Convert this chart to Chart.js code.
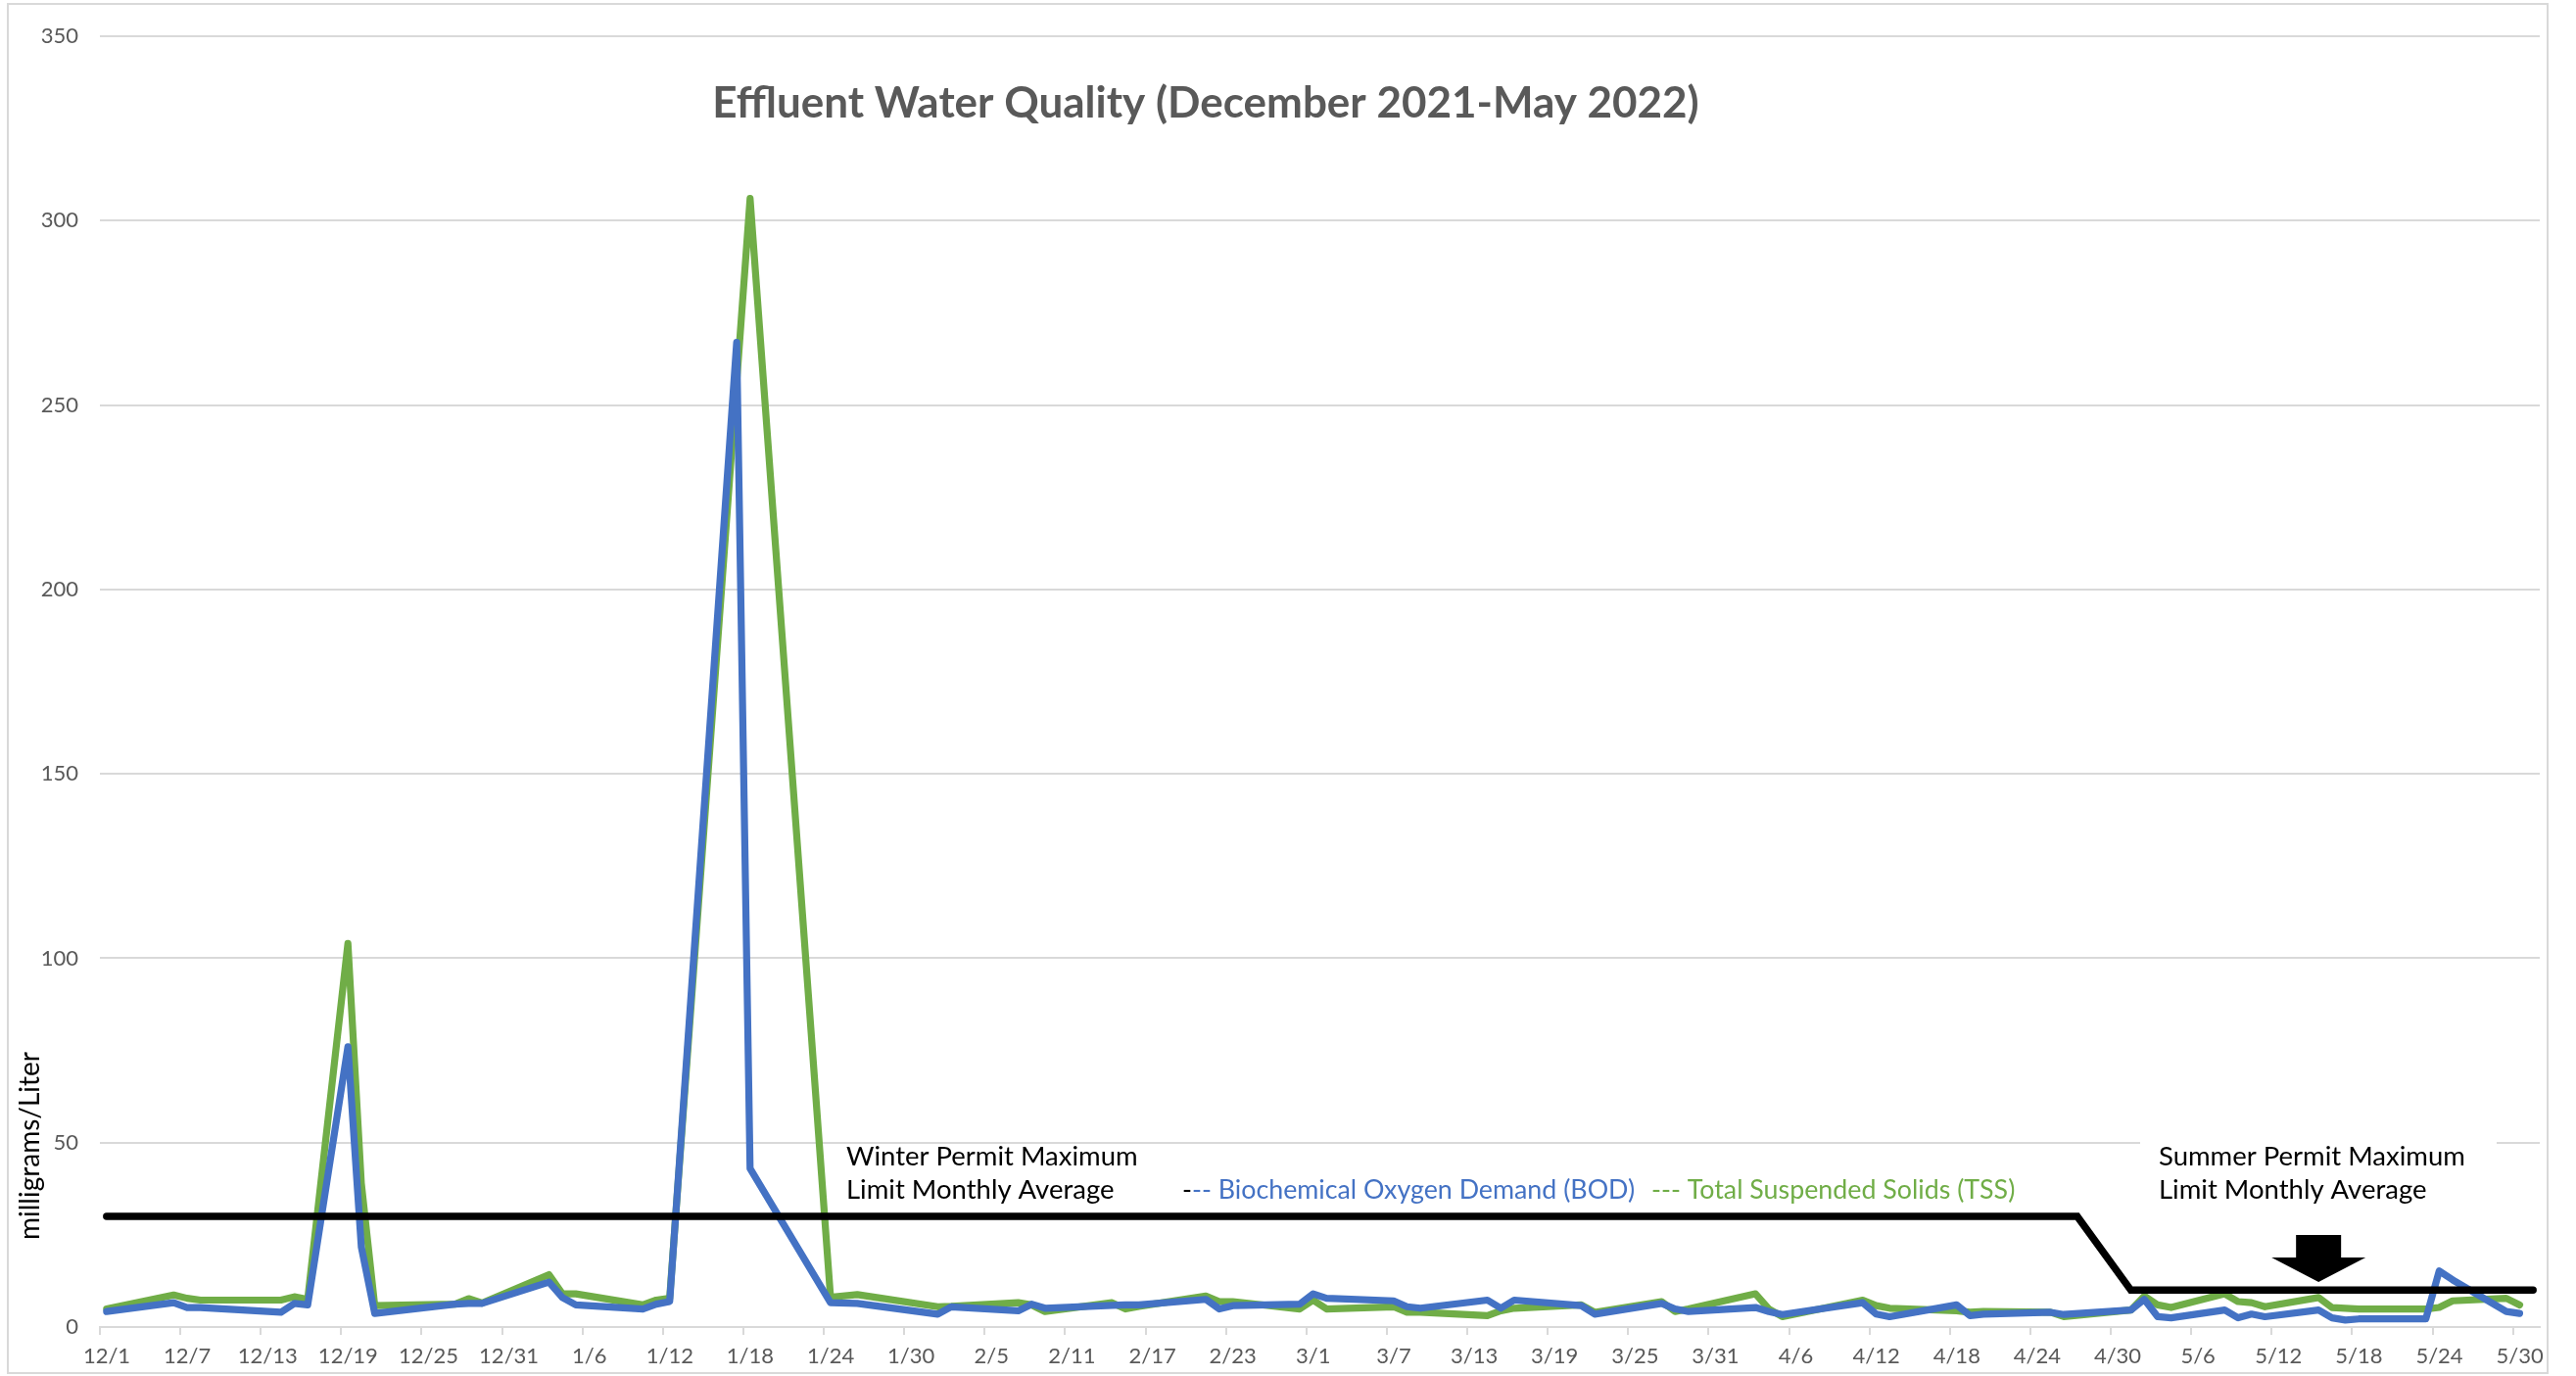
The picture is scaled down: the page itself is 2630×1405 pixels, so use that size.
<!DOCTYPE html>
<html>
<head>
<meta charset="utf-8">
<script src="https://cdn.jsdelivr.net/npm/chart.js@4/dist/chart.umd.min.js"></script>
<style>
  html, body { margin: 0; padding: 0; background: #ffffff; }
  #wrap { width: 2630px; height: 1405px; position: relative; }
</style>
</head>
<body>
<div id="wrap"><canvas id="chart" width="2630" height="1405"></canvas></div>
<script>
// ---- Sample dates (m/d, Dec 2021 - May 2022) and lab results, mg/L ----
const bodDates = ['12/1','12/6','12/7','12/8','12/14','12/15','12/16','12/19','12/20','12/21',
  '12/27','12/28','12/29','1/3','1/4','1/5','1/10','1/11','1/12','1/17','1/18','1/24','1/26',
  '2/1','2/2','2/7','2/8','2/9','2/14','2/15','2/16','2/21','2/22','2/23','2/28','3/1','3/2',
  '3/7','3/8','3/9','3/14','3/15','3/16','3/21','3/22','3/27','3/28','3/29','4/3','4/4','4/5',
  '4/11','4/12','4/13','4/18','4/19','4/20','4/25','4/26','5/1','5/2','5/3','5/4','5/8','5/9',
  '5/10','5/11','5/15','5/16','5/17','5/18','5/23','5/24','5/25','5/29','5/30'];
const bodValues = [4.2,6.6,5.3,5.3,4.0,6.4,6.0,76,21.7,3.7,
  6.2,6.4,6.4,12.2,8.0,6.0,4.9,6.2,6.9,267,43,6.6,6.4,
  3.5,5.5,4.4,6.2,5.1,5.9,6.0,6.0,7.5,4.9,5.8,6.2,9.0,7.8,
  7.1,5.5,5.1,7.3,5.1,7.3,5.8,3.5,6.4,4.9,4.2,5.3,4.2,3.4,
  6.6,3.5,2.8,6.0,3.1,3.5,4.0,3.4,4.6,7.5,2.8,2.5,4.6,2.5,
  3.5,2.8,4.6,2.5,1.9,2.2,2.2,15.2,12.8,4.2,3.7];

const tssDates = ['12/1','12/6','12/7','12/8','12/14','12/15','12/16','12/19','12/20','12/21',
  '12/27','12/28','12/29','1/3','1/4','1/5','1/10','1/11','1/12','1/18','1/24','1/26',
  '2/1','2/2','2/7','2/8','2/9','2/14','2/15','2/16','2/21','2/22','2/23','2/28','3/1','3/2',
  '3/7','3/8','3/9','3/14','3/15','3/16','3/21','3/22','3/27','3/28','3/29','4/3','4/4','4/5',
  '4/11','4/12','4/13','4/18','4/19','4/20','4/25','4/26','5/1','5/2','5/3','5/4','5/8','5/9',
  '5/10','5/11','5/15','5/16','5/17','5/18','5/23','5/24','5/25','5/29','5/30'];
const tssValues = [4.9,8.7,7.8,7.3,7.3,8.2,7.5,104,39,5.8,
  6.2,7.7,6.5,14.2,9.0,9.0,6.0,7.3,7.8,306,8.1,8.8,
  5.5,5.6,6.6,6.0,4.2,6.6,4.9,5.6,8.4,6.9,6.9,4.9,7.3,4.9,
  5.5,4.0,4.0,3.1,4.4,5.1,6.0,4.0,6.9,4.2,4.9,9.0,4.9,2.8,
  7.3,5.8,5.1,4.4,4.0,4.2,4.0,2.8,4.6,8.4,6.0,5.3,9.0,6.9,
  6.6,5.5,8.0,5.3,5.1,4.9,4.9,5.3,7.1,7.8,6.0];

// Permit maximum limit, monthly average (winter 30 mg/L, summer 10 mg/L)
const limitDates = ['12/1','4/27','5/1','5/31'];
const limitValues = [30, 30, 10, 10];

// Axis settings
const axisFirstDate = '12/1';
const axisEndDate = '6/1';
const dateTickStepDays = 6;
const yTickValues = [0, 50, 100, 150, 200, 250, 300, 350];

const seriesNames = ['Biochemical Oxygen Demand (BOD)', 'Total Suspended Solids (TSS)'];
const titleText = 'Effluent Water Quality (December 2021-May 2022)';
const yAxisTitle = 'milligrams/Liter';
const winterNote = ['Winter Permit Maximum', 'Limit Monthly Average'];
const summerNote = ['Summer Permit Maximum', 'Limit Monthly Average'];

// ---- helpers ----
const DAY_MS = 86400000;
function yearFor(m) { return m === 12 ? 2021 : 2022; }
function dayIndex(md) {
  const [m, d] = md.split('/').map(Number);
  return (Date.UTC(yearFor(m), m - 1, d) - Date.UTC(2021, 11, 1)) / DAY_MS;
}
function labelForDay(day) {
  const dt = new Date(Date.UTC(2021, 11, 1) + Math.round(day) * DAY_MS);
  return (dt.getUTCMonth() + 1) + '/' + dt.getUTCDate();
}
function toPoints(dates, values) {
  return dates.map((d, i) => ({ x: dayIndex(d), y: values[i] }));
}

const BLUE = '#4472C4';
const GREEN = '#70AD47';
const GRID = '#d9d9d9';
const FONT = 'Lato, "Open Sans", sans-serif';

// each day occupies a unit slot; samples sit at the middle of their day
const xMin = dayIndex(axisFirstDate) - 0.5;
const xMax = dayIndex(axisEndDate) - 0.5;

const decorations = {
  id: 'decorations',
  beforeDatasetsDraw(chart) {
    const ctx = chart.ctx;
    // white text box for the summer note sits over the gridline
    ctx.save();
    ctx.fillStyle = '#ffffff';
    ctx.fillRect(2185, 1160, 364, 76);
    ctx.restore();
  },
  afterDatasetsDraw(chart) {
    const ctx = chart.ctx;
    const xs = chart.scales.x, ys = chart.scales.y;
    ctx.save();
    // notes
    ctx.font = '27.5px ' + FONT;
    ctx.fillStyle = '#000000';
    ctx.textBaseline = 'alphabetic';
    ctx.textAlign = 'left';
    ctx.fillText(winterNote[0], 864, 1190);
    ctx.fillText(winterNote[1], 864, 1224);
    ctx.fillText(summerNote[0], 2204, 1190);
    ctx.fillText(summerNote[1], 2204, 1224);

    // series key
    ctx.font = '26.8px ' + FONT;
    let x = 1207;
    ctx.fillStyle = '#000000';
    ctx.fillText('-', x, 1224);
    x += ctx.measureText('-').width;
    ctx.fillStyle = BLUE;
    ctx.fillText('-- ' + seriesNames[0], x, 1224);
    ctx.fillStyle = GREEN;
    ctx.fillText('--- ' + seriesNames[1], 1686, 1224);

    // arrow pointing at the summer limit
    const ax = xs.getPixelForValue(dayIndex('5/15'));
    const tipY = ys.getPixelForValue(12.2);
    ctx.fillStyle = '#000000';
    ctx.beginPath();
    ctx.moveTo(ax - 23, tipY - 48);
    ctx.lineTo(ax + 23, tipY - 48);
    ctx.lineTo(ax + 23, tipY - 25);
    ctx.lineTo(ax + 48, tipY - 25);
    ctx.lineTo(ax, tipY);
    ctx.lineTo(ax - 48, tipY - 25);
    ctx.lineTo(ax - 23, tipY - 25);
    ctx.closePath();
    ctx.fill();

    // title
    ctx.font = 'bold 44px ' + FONT;
    ctx.fillStyle = '#595959';
    ctx.textAlign = 'center';
    ctx.textBaseline = 'middle';
    ctx.fillText(titleText, 1231, 106);

    // y-axis title
    ctx.translate(31, 1170);
    ctx.rotate(-Math.PI / 2);
    ctx.font = '28px ' + FONT;
    ctx.fillStyle = '#000000';
    ctx.fillText(yAxisTitle, 0, 0);
    ctx.restore();
  },
  afterDraw(chart) {
    const ctx = chart.ctx;
    ctx.save();
    ctx.strokeStyle = GRID;
    ctx.lineWidth = 2;
    ctx.strokeRect(8, 4, 2593, 1398);
    ctx.restore();
  }
};

new Chart(document.getElementById('chart'), {
  type: 'line',
  data: {
    datasets: [
      {
        label: 'Permit limit',
        data: toPoints(limitDates, limitValues),
        borderColor: '#000000',
        borderWidth: 7.5,
        pointRadius: 0,
        borderJoinStyle: 'miter',
        borderCapStyle: 'round',
        tension: 0
      },
      {
        label: seriesNames[0],
        data: toPoints(bodDates, bodValues),
        borderColor: BLUE,
        borderWidth: 7.2,
        pointRadius: 0,
        borderJoinStyle: 'round',
        borderCapStyle: 'round',
        tension: 0
      },
      {
        label: seriesNames[1],
        data: toPoints(tssDates, tssValues),
        borderColor: GREEN,
        borderWidth: 7.2,
        pointRadius: 0,
        borderJoinStyle: 'round',
        borderCapStyle: 'round',
        tension: 0
      }
    ]
  },
  options: {
    responsive: false,
    animation: false,
    devicePixelRatio: 1,
    layout: { padding: { left: 0, right: 37, top: 37, bottom: 0 } },
    plugins: {
      legend: { display: false },
      tooltip: { enabled: false },
      title: { display: false }
    },
    scales: {
      x: {
        type: 'linear',
        min: xMin,
        max: xMax,
        afterBuildTicks(axis) {
          const ticks = [];
          for (let v = xMin; v <= xMax + 1e-9; v += dateTickStepDays) ticks.push({ value: v });
          axis.ticks = ticks;
        },
        afterFit(axis) { axis.height = 50; },
        ticks: {
          autoSkip: false,
          maxRotation: 0,
          minRotation: 0,
          labelOffset: 7,
          padding: 9,
          color: '#595959',
          font: { family: FONT, size: 22 },
          callback: (value) => labelForDay(value + 0.5)
        },
        grid: {
          display: true,
          drawOnChartArea: false,
          drawTicks: true,
          tickLength: 8,
          color: GRID,
          lineWidth: 2
        },
        border: { display: true, color: GRID, width: 2 }
      },
      y: {
        min: yTickValues[0],
        max: yTickValues[yTickValues.length - 1],
        afterBuildTicks(axis) { axis.ticks = yTickValues.map(v => ({ value: v })); },
        afterFit(axis) { axis.width = 102; },
        ticks: {
          padding: 22,
          color: '#595959',
          font: { family: FONT, size: 22 }
        },
        grid: { color: GRID, lineWidth: 2, drawTicks: false },
        border: { display: false }
      }
    }
  },
  plugins: [decorations]
});
</script>
</body>
</html>
